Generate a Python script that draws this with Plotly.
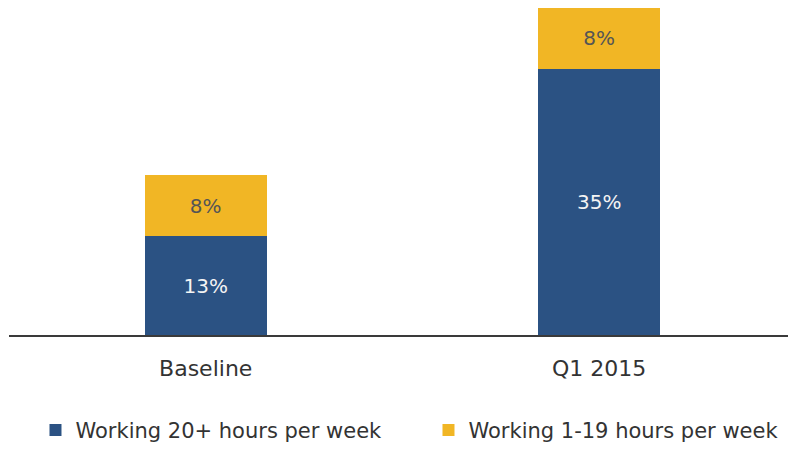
import plotly.graph_objects as go

# Share of participants by weekly working hours
categories = ["Baseline", "Q1 2015"]
work_20_plus = [13, 35]
work_1_19 = [8, 8]
series_names = ["Working 20+ hours per week", "Working 1-19 hours per week"]

BLUE = "#2b5283"
YELLOW = "#f1b625"
FONT = "DejaVu Sans"

fig = go.Figure()
fig.add_trace(go.Bar(
    x=categories, y=work_20_plus, name=series_names[0],
    marker=dict(color=BLUE, line=dict(width=0)),
    text=[f"{v}%" for v in work_20_plus], textposition="inside",
    insidetextanchor="middle",
    textfont=dict(family=FONT, size=20, color="#f4f4f4"),
    legend="legend",
))
fig.add_trace(go.Bar(
    x=categories, y=work_1_19, name=series_names[1],
    marker=dict(color=YELLOW, line=dict(width=0)),
    text=[f"{v}%" for v in work_1_19], textposition="inside",
    insidetextanchor="middle",
    textfont=dict(family=FONT, size=20, color="#555555"),
    legend="legend2",
))

legend_style = dict(
    orientation="h", xanchor="left", y=-0.346, yanchor="bottom",
    font=dict(family=FONT, size=21, color="#333333"),
    itemwidth=30, bgcolor="rgba(0,0,0,0)", borderwidth=0,
)

fig.update_layout(
    barmode="stack",
    bargap=0.69,
    width=788, height=451,
    margin=dict(l=9, r=0, t=0, b=116),
    paper_bgcolor="white", plot_bgcolor="white",
    font=dict(family=FONT, size=20, color="#333333"),
    xaxis=dict(
        range=[-0.5, 1.48], showgrid=False, ticks="",
        showline=True, linecolor="#3a3a3a", linewidth=2,
        ticklabelstandoff=13,
        tickfont=dict(family=FONT, size=22, color="#333333"),
    ),
    yaxis=dict(range=[0, 44], visible=False),
    showlegend=True,
    legend=dict(x=0.034, **legend_style),
    legend2=dict(x=0.5385, **legend_style),
)

fig.write_html("out.html")
